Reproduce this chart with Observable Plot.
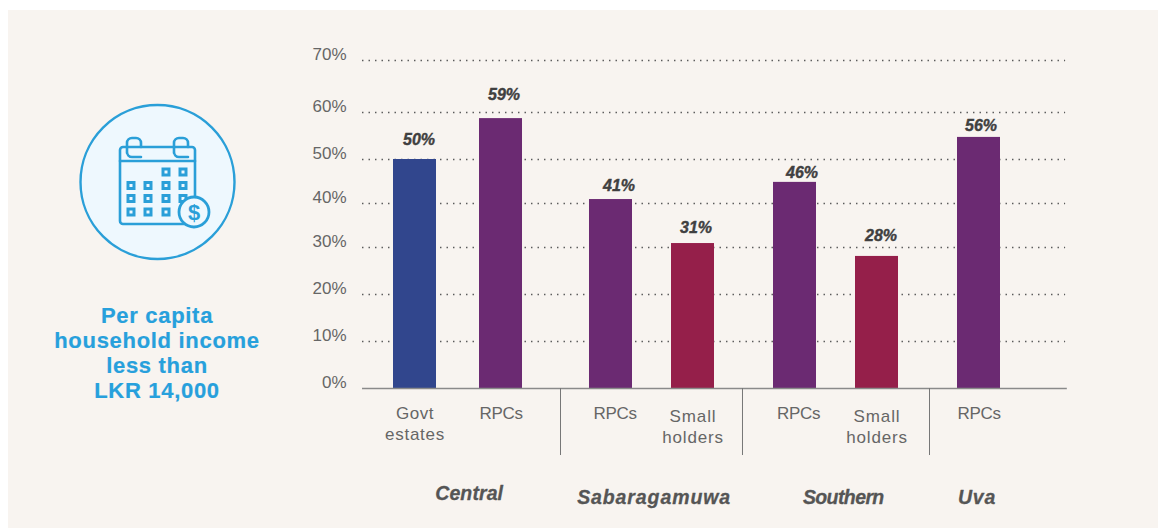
<!DOCTYPE html>
<html>
<head>
<meta charset="utf-8">
<script src="https://cdn.jsdelivr.net/npm/d3@7"></script>
<script src="https://cdn.jsdelivr.net/npm/@observablehq/plot@0.6"></script>
<style>
html,body{margin:0;padding:0;background:#fff;width:1166px;height:528px;overflow:hidden}
#panel{position:absolute;left:8px;top:10px;width:1150px;height:518px;background:#f8f4f0}
#icon{position:absolute;left:70px;top:95px;display:block;overflow:visible}
#title{position:absolute;left:0;top:293px;width:298px;text-align:center;font:bold 22px/25px "Liberation Sans",sans-serif;letter-spacing:.7px;-webkit-text-stroke:.2px #27a0dc;color:#27a0dc;white-space:nowrap}
#chart{position:absolute;left:292px;top:10px}
#chart svg{overflow:visible;background:transparent}
</style>
</head>
<body>
<div id="panel">
<svg id="icon" width="160" height="160" viewBox="70 95 160 160" fill="none" stroke="#2a9fd8">
  <circle cx="149.5" cy="172" r="77" fill="#eef8fe" stroke-width="2.4"/>
  <g stroke-width="2.6" stroke-linejoin="round" stroke-linecap="round">
    <rect x="112" y="137" width="75" height="77" rx="3"/>
    <path d="M112 151H187"/>
    <path d="M119 143V133a5 5 0 0 1 5-5h4a5 5 0 0 1 5 5v4M119 142a5 5 0 0 0 5 5h9"/>
    <path d="M166 143V133a5 5 0 0 1 5-5h4a5 5 0 0 1 5 5v4M166 142a5 5 0 0 0 5 5h9"/>
  </g>
  <g stroke-width="3" id="cells"></g>
  <circle cx="186" cy="202" r="15" fill="#eef8fe" stroke-width="2.8"/>
  <text x="186" y="210" text-anchor="middle" font-family="Liberation Sans" font-weight="bold" font-size="22" fill="#2a9fd8" stroke="none">$</text>
</svg>
<div id="title">Per capita<br>household income<br>less than<br>LKR 14,000</div>
<div id="chart"></div>
</div>
<script>
// --- chart values ---
const categories = ["Govt estates", "RPCs", "RPCs", "Small holders", "RPCs", "Small holders", "RPCs"];
const regions = ["Central", "Central", "Sabaragamuwa", "Sabaragamuwa", "Southern", "Southern", "Uva"];
const printedLabels = ["50%", "59%", "41%", "31%", "46%", "28%", "56%"];
// bar heights as drawn (they differ slightly from the printed labels)
const barValues = [50, 58.7, 40.9, 30.9, 44.8, 28.1, 54.7];
const tickValues = [0, 10, 20, 30, 40, 50, 60, 70];
const regionNames = ["Central", "Sabaragamuwa", "Southern", "Uva"];

// --- layout (the reference's axis is not evenly spaced, so the scale is piecewise) ---
const yRange = [368, 321, 274, 227, 183, 139, 92, 40];
const slots = [0, 2, 4.558, 6.465, 8.837, 10.744, 13.116];
const separators = [3.384, 7.616, 11.965];
const labelDy = [-20, -24, -14, -16, -10, -21, -12];
const labelDx = [4, 3, 8, 3, 7, 4, 2];
const categoryDx = [0, 0, 4, 0, 3.5, 0, 0];
const regionSlots = [1.26, 5.56, 9.96, 13.07];
const regionDy = [105, 109, 109, 109];
const wordSpacing = {Govt: 0.5, estates: 0.75, Small: 0.9, holders: 0.8, RPCs: -0.3,
  Central: 0.1, Sabaragamuwa: 0.9, Southern: -0.6, Uva: 0.7};

const rows = categories.map((c, i) => ({
  category: c, region: regions[i], value: barValues[i], label: printedLabels[i],
  slot: slots[i], dy: labelDy[i], dx: labelDx[i], catDx: categoryDx[i], lines: c.split(" ")
}));
const colorOf = d => d.category === "Govt estates" ? "#31468d" : d.category === "RPCs" ? "#6b2a72" : "#951f4a";
const sans = "'Liberation Sans', sans-serif";

const textMarks = [];
rows.forEach(r => {
  textMarks.push(Plot.text([r], {
    x: "slot", y: "value", text: "label", dx: r.dx, dy: r.dy,
    fontSize: 16, fontWeight: "bold", fontStyle: "italic", fill: "#404040", stroke: "#404040", strokeWidth: 0.4, fontFamily: sans
  }));
  const small = r.category === "Small holders";
  r.lines.forEach((ln, j) => {
    textMarks.push(Plot.text([{...r, ln}], {
      x: "slot", y: () => 0, text: "ln", dx: r.catDx, dy: (small ? 28 : 25) + j * 21,
      fontSize: 17, fill: "#666", fontFamily: sans
    }));
  });
});
regionNames.forEach((name, i) => {
  textMarks.push(Plot.text([name], {
    x: () => regionSlots[i], y: () => 0, text: d => d, dy: regionDy[i],
    fontSize: 19.5, fontWeight: "bold", fontStyle: "italic", fill: "#555", stroke: "#555", strokeWidth: 0.3, fontFamily: sans
  }));
});

const chart = Plot.plot({
  width: 790, height: 490,
  marginLeft: 0, marginRight: 0, marginTop: 0, marginBottom: 0,
  style: {background: "transparent", overflow: "visible"},
  x: {type: "linear", domain: [0, 13.116], range: [114.5, 678.5], axis: null},
  y: {type: "linear", domain: tickValues, range: yRange, axis: null},
  marks: [
    Plot.ruleY(tickValues.slice(1), {x1: -1.22, x2: 15.13, stroke: "#555", strokeWidth: 1.4, strokeDasharray: "1.4 5.1"}),
    Plot.rectY(rows, {x1: d => d.slot - 0.5, x2: d => d.slot + 0.5, y1: 0, y2: "value", fill: colorOf}),
    Plot.ruleY([0], {x1: -1.22, x2: 15.17, stroke: "#8a8a8a", strokeWidth: 1.5}),
    Plot.ruleX(separators, {y1: 0, y2: -14.26, stroke: "#777", strokeWidth: 1}),
    Plot.text(tickValues, {
      frameAnchor: "left", dx: 46, y: d => d, text: d => d + "%", dy: -6,
      textAnchor: "end", fontSize: 17, fill: "#666", fontFamily: sans
    }),
    ...textMarks
  ]
});
d3.select(chart).selectAll("text").each(function () {
  const s = wordSpacing[this.textContent];
  if (s !== undefined) this.style.letterSpacing = s + "px";
});
document.getElementById("chart").appendChild(chart);

// calendar day squares in the decorative icon
const cellsG = d3.select("#cells");
const cols = [123, 140, 158, 175], rowsY = [162, 175.5, 188.5, 202];
rowsY.forEach((ry, ri) => cols.forEach((cx, ci) => {
  if (ri === 0 && ci < 2) return;
  if (ri === 3 && ci === 3) return;
  cellsG.append("rect").attr("x", cx - 3).attr("y", ry - 3).attr("width", 6).attr("height", 6);
}));
</script>
</body>
</html>
